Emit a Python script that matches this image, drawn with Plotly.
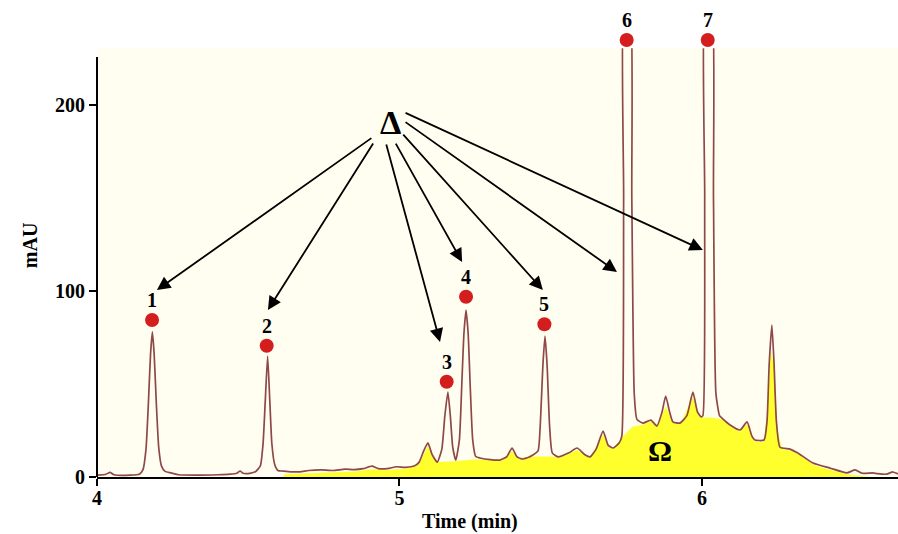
import plotly.graph_objects as go

# ---------------- data ----------------
trace_time = [4.000, 4.030, 4.043, 4.056, 4.110, 4.140,
              4.152, 4.162, 4.170, 4.177, 4.183, 4.189, 4.196, 4.204, 4.213, 4.225, 4.245, 4.270,
              4.340, 4.400, 4.440, 4.462, 4.473, 4.483, 4.505, 4.525,
              4.540, 4.549, 4.556, 4.564, 4.571, 4.578, 4.587, 4.598, 4.615, 4.640,
              4.671, 4.700, 4.740, 4.780, 4.820, 4.850, 4.880, 4.909, 4.930, 4.960, 4.990, 5.020,
              5.050, 5.065, 5.080, 5.094, 5.108, 5.125,
              5.140, 5.150, 5.160, 5.168, 5.176, 5.186,
              5.198, 5.206, 5.213, 5.220, 5.227, 5.234, 5.242, 5.252, 5.266, 5.300, 5.332,
              5.355, 5.372, 5.388, 5.405, 5.425, 5.441,
              5.458, 5.466, 5.474, 5.481, 5.488, 5.496, 5.505, 5.524, 5.560, 5.587, 5.613, 5.630,
              5.650, 5.673, 5.690, 5.706, 5.726,
              5.735, 5.741, 5.744, 5.760, 5.768, 5.776, 5.785, 5.805, 5.831, 5.851, 5.868, 5.880,
              5.893, 5.904, 5.927, 5.950, 5.970, 5.985, 5.997,
              6.003, 6.009, 6.012, 6.030, 6.038, 6.046, 6.058, 6.066, 6.093, 6.126, 6.149, 6.165,
              6.175, 6.205, 6.215, 6.222, 6.231, 6.238, 6.246, 6.258, 6.291, 6.317, 6.367, 6.423,
              6.479, 6.506, 6.530, 6.565, 6.580, 6.610, 6.631, 6.648]
trace_mau = [1.0, 1.5, 2.5, 1.2, 1.0, 1.5,
             4, 15, 40, 66, 78, 66, 40, 16, 6, 3, 2.2, 1.2,
             1.0, 1.2, 1.5, 2.0, 3.2, 2.0, 2.0, 3.0,
             6, 18, 40, 65, 42, 18, 7, 3.5, 3.2, 2.8,
             2.8, 3.5, 3.8, 3.5, 4.2, 4.0, 4.5, 5.8, 4.5, 4.5, 5.5, 5.2,
             6.0, 8.0, 14, 18.3, 12, 8.0,
             15, 33, 45.7, 33, 16, 9.0,
             20, 50, 77, 89.8, 77, 48, 20, 11, 10.2, 9.3, 9.1,
             11, 15.6, 11, 9.7, 10.5, 11.8,
             14, 30, 60, 75.8, 60, 28, 13, 10.8, 13, 15.6, 12, 10.8,
             15, 24.7, 17, 15.6, 18.3,
             22, 150, 260, 260, 150, 45, 31, 29, 30.6, 27.4, 35, 43.5,
             35, 29.6, 29, 33, 45.7, 35, 32.3,
             33, 150, 260, 260, 150, 45, 33, 31.7, 28, 25.3, 29.6, 22,
             19.9, 19.9, 30, 60, 81.7, 62, 30, 16, 15, 12.9, 7.5, 4.8,
             2.2, 3.8, 2.0, 2.2, 1.8, 1.5, 2.7, 1.6]

fill_time = [4.615, 4.620, 4.700, 4.780, 4.850, 4.909, 4.960, 5.020, 5.060, 5.080, 5.094, 5.108,
             5.130, 5.180, 5.250, 5.300, 5.340, 5.372, 5.390, 5.440, 5.500, 5.530, 5.587, 5.630,
             5.673, 5.690, 5.706, 5.720, 5.740, 5.770, 5.800, 5.831, 5.851, 5.880, 5.904, 5.930,
             5.970, 5.995, 6.030, 6.066, 6.093, 6.126, 6.149, 6.175, 6.205, 6.218, 6.228, 6.238,
             6.250, 6.265, 6.300, 6.330, 6.370, 6.420, 6.480, 6.520, 6.560]
fill_mau = [0, 1.5, 2.0, 2.5, 3.0, 4.2, 3.8, 4.5, 6.0, 12, 17, 11,
            8.0, 8.5, 9.5, 9.0, 9.0, 14, 10, 11, 11, 10.5, 14.5, 10.5,
            23, 16, 15, 18, 22, 27, 28, 30, 27, 38, 29, 29,
            43, 32, 32, 31, 27.5, 24.5, 28.5, 19, 19, 40, 68, 60,
            25, 15, 14, 11, 6.5, 4, 1.5, 0.8, 0]

peak_labels = ["1", "2", "3", "4", "5", "6", "7"]
dot_time = [4.182, 4.561, 5.156, 5.220, 5.479, 5.751, 6.019]
dot_mau = [84.4, 70.6, 51.2, 96.9, 82.1, 235.0, 235.0]

# arrows: head (time, mAU) and tail (time, mAU)
arrow_head_time = [4.198, 4.565, 5.134, 5.207, 5.474, 5.719, 6.003]
arrow_head_mau = [100.5, 89.8, 72.6, 115.6, 100.5, 110.2, 122.0]
arrow_tail_time = [4.912, 4.916, 4.955, 4.985, 5.008, 5.015, 5.015]
arrow_tail_mau = [182.8, 180.1, 179.6, 180.1, 184.9, 191.4, 196.2]

delta_pos = (4.969, 190.5)
omega_pos = (5.861, 14.5)

x_ticks = [4, 5, 6]
y_ticks = [0, 100, 200]
x_range = [4.0, 6.648]
y_range = [0.0, 230.6]       # visible (cream) plotting window
y_full_range = [0.0, 256.5]  # same scale, extended to the top of the figure for the markers
y_axis_top = 225.8

SERIF = "Liberation Serif, Times New Roman, serif"
CREAM_TOP = y_range[1] / y_full_range[1]

fig = go.Figure()

fig.add_trace(go.Scatter(x=fill_time, y=fill_mau, mode="lines", fill="tozeroy",
                         fillcolor="#FFFF2E", line=dict(width=0, color="#FFFF2E"),
                         hoverinfo="skip", showlegend=False))
fig.add_trace(go.Scatter(x=trace_time, y=trace_mau, mode="lines",
                         line=dict(color="#8E4848", width=1.7, shape="spline", smoothing=0.5),
                         showlegend=False))
fig.add_trace(go.Scatter(x=dot_time, y=dot_mau, mode="markers", yaxis="y2",
                         marker=dict(size=14, color="#D41E1E"),
                         cliponaxis=False, showlegend=False))

annotations = []
for lab, t, v in zip(peak_labels, dot_time, dot_mau):
    annotations.append(dict(x=t, y=v, xref="x", yref="y2", text=lab, showarrow=False, yshift=20,
                            font=dict(family=SERIF, size=20, color="black", weight="bold")))
for hx, hy, tx, ty in zip(arrow_head_time, arrow_head_mau, arrow_tail_time, arrow_tail_mau):
    annotations.append(dict(x=hx, y=hy, ax=tx, ay=ty, axref="x", ayref="y", text="",
                            showarrow=True, arrowhead=2, arrowsize=1.5, arrowwidth=1.8,
                            arrowcolor="black", standoff=0, startstandoff=0))
annotations.append(dict(x=delta_pos[0], y=delta_pos[1], text="Δ", showarrow=False,
                        font=dict(family=SERIF, size=34, color="black", weight="bold")))
annotations.append(dict(x=omega_pos[0], y=omega_pos[1], text="Ω", showarrow=False,
                        font=dict(family=SERIF, size=30, color="black", weight="bold")))
annotations.append(dict(xref="paper", yref="paper", x=0.4657, y=-0.094, text="Time (min)",
                        showarrow=False, yanchor="middle", xanchor="center",
                        font=dict(family=SERIF, size=20, color="black", weight="bold")))
annotations.append(dict(xref="paper", yref="paper", x=-0.0836, y=0.486, text="mAU",
                        textangle=-90, showarrow=False, xanchor="center", yanchor="middle",
                        font=dict(family=SERIF, size=20, color="black", weight="bold")))

fig.update_layout(
    width=898, height=534,
    margin=dict(l=97, r=0, t=0, b=57),
    paper_bgcolor="white", plot_bgcolor="rgba(0,0,0,0)",
    annotations=annotations,
    shapes=[
        dict(type="rect", xref="paper", yref="paper", x0=0, x1=1, y0=0, y1=CREAM_TOP,
             fillcolor="#FFFEF0", line=dict(width=0), layer="below"),
        dict(type="line", xref="paper", yref="y", x0=0, x1=0, y0=0, y1=y_axis_top,
             line=dict(color="black", width=2)),
    ],
    xaxis=dict(range=x_range, tickvals=x_ticks, ticks="outside", ticklen=7, tickwidth=2,
               tickcolor="black", showline=True, linecolor="black", linewidth=2,
               showgrid=False, zeroline=False, ticklabelstandoff=-5,
               tickfont=dict(family=SERIF, size=20, color="black", weight="bold")),
    yaxis=dict(range=y_range, domain=[0, CREAM_TOP], tickvals=y_ticks, ticks="outside",
               ticklen=7, tickwidth=2, tickcolor="black", showline=False, showgrid=False,
               zeroline=False,
               tickfont=dict(family=SERIF, size=20, color="black", weight="bold")),
    yaxis2=dict(range=y_full_range, domain=[0, 1], anchor="x", visible=False,
                showgrid=False, zeroline=False),
)

fig.write_html("out.html")
